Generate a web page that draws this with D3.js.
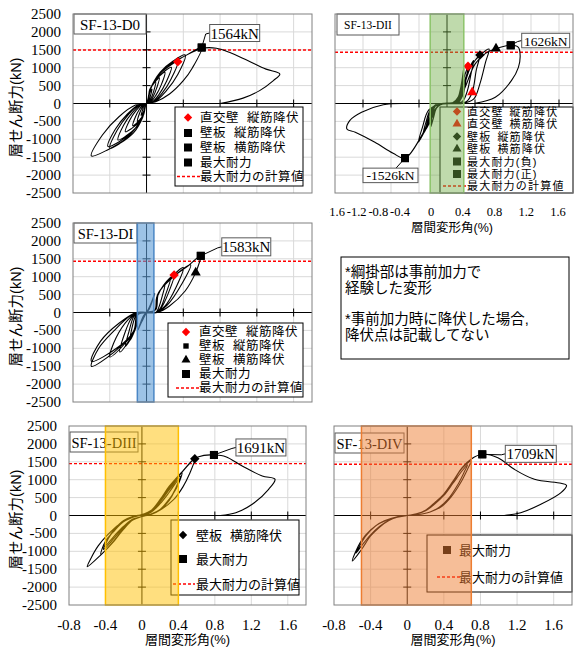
<!DOCTYPE html>
<html><head><meta charset="utf-8">
<script src="https://cdn.jsdelivr.net/npm/d3@7/dist/d3.min.js"></script>
<style>
body{margin:0;background:#fff}
svg text{font-family:"Liberation Serif","Times New Roman",serif;fill:#000}
svg text.jp{font-family:"Liberation Sans","Noto Sans CJK JP","Noto Sans",sans-serif}
</style></head><body>
<svg id="c" width="579" height="648"></svg>
<script>
// ---------------- DATA ----------------
const yTicks = [-2500,-2000,-1500,-1000,-500,0,500,1000,1500,2000,2500];
const xTicksWide = [-1.6,-1.2,-0.8,-0.4,0,0.4,0.8,1.2,1.6];
const xTicksNarrow = [-0.8,-0.4,0,0.4,0.8,1.2,1.6];
const panelNames = ["SF-13-D0","SF-13-DII","SF-13-DI","SF-13-DIII","SF-13-DIV"];
const calcMax = [1495,1430,1430,1450,1430];
const maxLabels = ["1564kN","1626kN","-1526kN","1583kN","1691kN","1709kN"];
const bandD2 = [-0.24,0.24];
const bandD1 = [-0.10,0.08];
const bandD3 = [-0.40,0.40];
const bandD4 = [-0.50,0.70];

// SF-13-D0 (drift %, shear kN)
const d0Curve = [[0,0],
[0.015,120],[0.03,260],[0.045,350],[0.06,400],[0.045,240],[0.03,100],[0.01,10],[0,0],
[-0.015,-100],[-0.03,-215],[-0.045,-290],[-0.06,-330],[-0.045,-200],[-0.03,-80],[-0.01,-8],[0,0],
[0.02,180],[0.035,390],[0.07,530],[0.10,600],[0.08,360],[0.05,150],[0.02,15],[0,0],
[-0.02,-150],[-0.035,-325],[-0.07,-440],[-0.10,-500],[-0.08,-300],[-0.05,-125],[-0.02,-12],[0,0],
[0.025,220],[0.05,470],[0.10,630],[0.14,720],[0.11,430],[0.07,180],[0.03,20],[0,0],
[-0.025,-190],[-0.055,-400],[-0.105,-545],[-0.15,-620],[-0.12,-370],[-0.075,-155],[-0.03,-15],[0,0],
[0.03,260],[0.07,565],[0.14,765],[0.20,870],[0.16,520],[0.10,220],[0.04,25],[0,0],
[-0.03,-240],[-0.08,-515],[-0.16,-695],[-0.23,-790],[-0.185,-475],[-0.115,-200],[-0.045,-20],[0,0],
[0.03,300],[0.095,655],[0.19,890],[0.27,1010],[0.215,605],[0.135,250],[0.055,30],[0,0],
[-0.03,-300],[-0.11,-660],[-0.22,-900],[-0.31,-1020],[-0.25,-610],[-0.155,-255],[-0.06,-30],[0,0],
[0.035,350],[0.12,760],[0.24,1030],[0.34,1168],[0.27,700],[0.17,290],[0.07,35],[0,0],
[-0.04,-375],[-0.14,-815],[-0.28,-1100],[-0.40,-1252],[-0.32,-750],[-0.20,-315],[-0.08,-35],[0,0],
[0.04,400],[0.15,880],[0.29,1190],[0.42,1355],[0.34,810],[0.21,340],[0.085,40],[0,0],
[-0.04,-360],[-0.15,-780],[-0.29,-1055],[-0.42,-1200],[-0.34,-720],[-0.21,-300],[-0.085,-35],[0,0],
[0.05,450],[0.21,1010],[0.42,1330],[0.60,1564],[0.50,1000],[0.40,636],[0.25,265],[0.10,50],[0,0],
[-0.05,-400],[-0.21,-950],[-0.42,-1290],[-0.60,-1466],[-0.48,-880],[-0.30,-370],[-0.12,-45],[0,0],
[0.05,450],[0.21,1010],[0.42,1330],[0.60,1540],[0.76,1545],[0.90,1430],[1.10,1200],[1.30,960],[1.45,824],[1.38,640],[1.23,360],[1.05,150],[0.80,0]];
const d0Marks = [["diamond","#ff0000",0.34,1168],["square","#000",0.60,1564]];

// SF-13-DII
const d2Curve = [[0,0],
[0.08,20],[0.15,130],[0.20,480],[0.24,880],[0.22,450],[0.18,120],[0.10,10],[-0.06,-10],[-0.14,-90],[-0.19,-380],[-0.23,-650],[-0.21,-300],[-0.16,-60],[-0.04,0],
[0.08,20],[0.16,180],[0.21,600],[0.24,1000],[0.22,560],[0.17,130],[0.08,0],[-0.07,-10],[-0.15,-130],[-0.20,-430],[-0.24,-600],[-0.22,-260],[-0.17,-50],[-0.05,0],
[0.09,20],[0.17,200],[0.22,520],[0.24,700],[0.22,250],[0.17,40],[0.06,0],[-0.08,-10],[-0.16,-150],[-0.21,-380],[-0.24,-450],[-0.22,-180],[-0.16,-30],[-0.05,0],
[0.10,30],[0.17,200],[0.24,700],[0.30,1040],[0.27,650],[0.23,250],[0.16,40],[0.05,0],[-0.08,-20],[-0.16,-150],[-0.23,-450],[-0.30,-720],[-0.27,-430],[-0.21,-130],[-0.06,0],
[0.12,40],[0.19,250],[0.28,800],[0.38,1200],[0.34,800],[0.29,350],[0.22,60],[0.06,0],[-0.09,-30],[-0.18,-200],[-0.26,-550],[-0.34,-852],[-0.30,-520],[-0.23,-160],[-0.07,0],
[0.13,40],[0.20,300],[0.32,950],[0.47,1354],[0.42,950],[0.36,313],[0.28,60],[0.08,0],[-0.10,-30],[-0.20,-250],[-0.30,-700],[-0.41,-1084],[-0.35,-660],[-0.26,-180],[-0.08,0],
[0.14,50],[0.22,350],[0.36,1100],[0.60,1520],[0.55,1150],[0.47,550],[0.38,120],[0.22,0],[0.05,0],[-0.10,-40],[-0.22,-300],[-0.35,-850],[-0.60,-1526],
[-0.77,-1391],[-1.03,-1084],[-1.31,-805],[-1.43,-712],[-1.39,-480],[-1.22,-246],[-0.91,-34],[-0.55,0],[-0.20,0],
[0.10,30],[0.22,300],[0.40,1100],[0.55,1400],[0.70,1531],[0.91,1626],[1.02,1570],[1.045,1330],[1.02,1011],[0.92,637],[0.69,173],[0.40,5]];
const d2Marks = [["diamond","#ff0000",0.30,1039],["triangle","#ff0000",0.36,313],["diamond","#000",0.47,1354],["triangle","#000",0.70,1531],["square","#000",0.91,1626],["square","#000",-0.60,-1526]];

// SF-13-DI
const d1Curve = [[0,0],
[0.03,150],[0.06,330],[0.09,540],[0.06,300],[0.03,100],[0,0],[-0.03,-150],[-0.06,-300],[-0.09,-480],[-0.06,-250],[-0.03,-80],[0,0],
[0.09,60],[0.11,380],[0.15,620],[0.20,780],[0.17,450],[0.13,120],[0.10,0],[0,-10],
[-0.09,-40],[-0.11,-350],[-0.14,-580],[-0.18,-776],[-0.16,-450],[-0.12,-100],[-0.09,0],[0,10],
[0.09,60],[0.11,420],[0.17,700],[0.26,950],[0.21,520],[0.15,120],[0.10,0],[0,-10],
[-0.09,-40],[-0.11,-380],[-0.16,-680],[-0.23,-950],[-0.19,-520],[-0.14,-120],[-0.09,0],[0,10],
[0.09,60],[0.12,460],[0.19,780],[0.30,1047],[0.24,560],[0.16,130],[0.10,0],[0,-10],
[-0.09,-40],[-0.12,-420],[-0.19,-780],[-0.29,-1103],[-0.24,-600],[-0.16,-140],[-0.09,0],[0,10],
[0.09,70],[0.12,500],[0.22,850],[0.40,1254],[0.32,700],[0.20,180],[0.10,0],[0,-10],
[-0.09,-50],[-0.12,-450],[-0.24,-880],[-0.40,-1242],[-0.33,-700],[-0.20,-200],[-0.10,0],[0,10],
[0.10,80],[0.13,530],[0.26,930],[0.48,1330],[0.38,780],[0.23,220],[0.11,0],[0,-10],
[-0.10,-50],[-0.13,-480],[-0.30,-950],[-0.60,-1363],[-0.50,-800],[-0.30,-300],[-0.11,0],[0,10],
[0.10,80],[0.13,550],[0.30,1011],[0.45,1300],[0.59,1583],[0.555,1250],[0.535,1114],[0.42,600],[0.25,180],[0.12,0],[0,-10],
[-0.10,-60],[-0.14,-520],[-0.35,-1100],[-0.60,-1503],[-0.52,-1000],[-0.35,-500],[-0.18,-100],[-0.08,0]];
const d1Marks = [["diamond","#ff0000",0.30,1047],["triangle","#000",0.535,1114],["square","#000",0.59,1583]];

// SF-13-DIII
const d3Curve = [[0,0],
[0.1,90],[0.2,330],[0.3,650],[0.40,1000],[0.36,700],[0.3,420],[0.2,150],[0.1,30],[0,-30],[-0.1,-100],[-0.2,-300],[-0.3,-560],[-0.40,-850],[-0.36,-600],[-0.3,-380],[-0.2,-140],[-0.1,-30],[0,30],
[0.1,110],[0.2,380],[0.3,720],[0.42,1100],[0.37,760],[0.3,440],[0.2,160],[0.1,40],[0,-30],[-0.1,-110],[-0.2,-330],[-0.3,-620],[-0.42,-950],[-0.37,-650],[-0.3,-400],[-0.2,-160],[-0.1,-40],[0,30],
[0.1,120],[0.2,400],[0.3,760],[0.44,1200],[0.39,820],[0.3,460],[0.2,170],[0.1,40],[0,-30],[-0.1,-120],[-0.2,-360],[-0.3,-680],[-0.45,-1084],[-0.40,-720],[-0.3,-420],[-0.2,-170],[-0.1,-40],[0,30],
[0.1,130],[0.2,430],[0.3,800],[0.42,1150],[0.58,1587],[0.52,1150],[0.45,800],[0.35,450],[0.2,150],[0.1,40],[0,-30],[-0.1,-130],[-0.2,-380],[-0.3,-700],[-0.45,-1100],[-0.60,-1430],[-0.56,-1200],[-0.48,-850],[-0.38,-550],[-0.25,-250],[-0.1,-50],[0,20],
[0.1,140],[0.2,450],[0.3,820],[0.45,1250],[0.58,1590],[0.68,1680],[0.79,1691],[0.92,1643],[1.10,1382],[1.32,1103],[1.46,1011],[1.39,732],[1.21,313],[1.03,78],[0.86,0]];
const d3Marks = [["diamond","#000",0.58,1587],["square","#000",0.79,1691]];

// SF-13-DIV
const d4Curve = [[0,0],
[0.1,40],[0.2,130],[0.3,320],[0.4,560],[0.5,900],[0.60,1250],[0.66,1420],[0.62,1200],[0.55,850],[0.45,470],[0.35,230],[0.25,100],[0.1,20],[0,0],
[-0.1,-40],[-0.2,-130],[-0.3,-300],[-0.4,-540],[-0.5,-850],[-0.56,-1050],[-0.52,-850],[-0.45,-560],[-0.35,-300],[-0.25,-150],[-0.1,-30],[0,0],
[0.1,40],[0.2,140],[0.3,340],[0.4,580],[0.5,940],[0.60,1320],[0.70,1530],[0.66,1300],[0.58,900],[0.48,520],[0.38,260],[0.25,100],[0.1,20],[0,0],
[-0.1,-40],[-0.2,-140],[-0.3,-320],[-0.4,-573],[-0.5,-950],[-0.60,-1271],[-0.57,-1050],[-0.5,-700],[-0.4,-400],[-0.3,-220],[-0.15,-70],[0,0],
[0.1,45],[0.2,150],[0.3,360],[0.4,600],[0.5,960],[0.6,1340],[0.70,1580],[0.82,1709],[0.99,1615],[1.17,1290],[1.39,1011],[1.68,899],[1.74,843],[1.68,637],[1.46,313],[1.24,78],[1.06,0]];
const d4Marks = [["square","#000",0.82,1709]];

// legends: [marker, colour, word1, word2]
const d0Legend = [["diamond","#ff0000","直交壁","縦筋降伏"],["square","#000","壁板","縦筋降伏"],["square","#000","壁板","横筋降伏"],["square","#000","最大耐力",""],["dash","#ff0000","最大耐力の計算値",""]];
const d2Legend = [["diamond","#ff0000","直交壁","縦筋降伏"],["triangle","#ff0000","直交壁","横筋降伏"],["diamond","#000","壁板","縦筋降伏"],["triangle","#000","壁板","横筋降伏"],["square","#000","最大耐力(負)",""],["square","#000","最大耐力(正)",""],["dash","#ff0000","最大耐力の計算値",""]];
const d1Legend = [["diamond","#ff0000","直交壁","縦筋降伏"],["smallsquare","#000","壁板","縦筋降伏"],["triangle","#000","壁板","横筋降伏"],["square","#000","最大耐力",""],["dash","#ff0000","最大耐力の計算値",""]];
const d3Legend = [["diamond","#000","壁板","横筋降伏"],["square","#000","最大耐力",""],["dash","#ff0000","最大耐力の計算値",""]];
const d4Legend = [["square","#000","最大耐力",""],["dash","#ff0000","最大耐力の計算値",""]];

const noteLines = ["*綱掛部は事前加力で","経験した変形","*事前加力時に降伏した場合,","降伏点は記載してない"];
const yTitle = "層せん断力(kN)";
const xTitle = "層間変形角(%)";

// ---------------- DRAWING ----------------
const svg = d3.select("#c");
const JP = "jp";

function symPath(type, s){
  if(type==="square") return d3.symbol(d3.symbolSquare, s*s)();
  if(type==="smallsquare") return d3.symbol(d3.symbolSquare, s*s*0.45)();
  if(type==="diamond") return d3.symbol(d3.symbolSquare, s*s*0.55)();
  if(type==="triangle") return d3.symbol(d3.symbolTriangle, s*s*0.55)();
}
function drawSym(g, type, color, px, py, s){
  return g.append("path").attr("d", symPath(type, s)).attr("fill", color)
    .attr("transform", `translate(${px},${py})` + (type==="diamond" ? " rotate(45)" : ""));
}

function panel(c){
  const x = d3.scaleLinear().domain(c.xDomain).range([c.l, c.l + c.w]);
  const y = d3.scaleLinear().domain([-2500, 2500]).range([c.t + c.h, c.t]);
  const g = svg.append("g");
  const clipId = "clip" + c.id;
  svg.append("clipPath").attr("id", clipId).append("rect")
    .attr("x", c.l).attr("y", c.t).attr("width", c.w).attr("height", c.h);

  g.append("rect").attr("x", c.l).attr("y", c.t).attr("width", c.w).attr("height", c.h).attr("fill", "#fff");
  const gridX = (c.xDomain[0] < -1 ? xTicksWide : xTicksNarrow).filter(v => v !== 0 && x(v) > c.l + 1);
  g.selectAll(null).data(gridX).join("line")
    .attr("x1", d => x(d)).attr("x2", d => x(d)).attr("y1", c.t).attr("y2", c.t + c.h)
    .attr("stroke", "#d9d9d9").attr("stroke-width", 1);
  g.selectAll(null).data(yTicks.filter(v => v !== 0 && Math.abs(v) < 2500)).join("line")
    .attr("x1", c.l).attr("x2", c.l + c.w).attr("y1", d => y(d)).attr("y2", d => y(d))
    .attr("stroke", "#d9d9d9").attr("stroke-width", 1);

  g.append("line").attr("x1", c.l).attr("x2", c.l + c.w).attr("y1", y(c.calc)).attr("y2", y(c.calc))
    .attr("stroke", "#ff0000").attr("stroke-width", 1.4).attr("stroke-dasharray", "3,2");

  g.append("line").attr("x1", c.l).attr("x2", c.l + c.w).attr("y1", y(0)).attr("y2", y(0)).attr("stroke", "#000");
  g.append("line").attr("x1", x(0)).attr("x2", x(0)).attr("y1", c.t).attr("y2", c.t + c.h).attr("stroke", "#000");
  g.selectAll(null).data(gridX).join("line")
    .attr("x1", d => x(d)).attr("x2", d => x(d)).attr("y1", y(0) - 4).attr("y2", y(0) + 4).attr("stroke", "#000");
  g.selectAll(null).data(yTicks.filter(v => v !== 0 && Math.abs(v) < 2500)).join("line")
    .attr("x1", x(0) - 4).attr("x2", x(0) + 4).attr("y1", d => y(d)).attr("y2", d => y(d)).attr("stroke", "#000");

  const line = d3.line().x(d => x(d[0])).y(d => y(d[1])).curve(d3.curveCatmullRom.alpha(0.5));
  g.append("path").datum(c.curve).attr("d", line).attr("fill", "none")
    .attr("stroke", "#000").attr("stroke-width", 1.1).attr("stroke-linejoin", "round")
    .attr("clip-path", `url(#${clipId})`);

  c.marks.forEach(m => drawSym(g, m[0], m[1], x(m[2]), y(m[3]), m[0]==="square" ? 8 : 9));

  const L = c.leg;
  g.append("rect").attr("x", L.x).attr("y", L.y).attr("width", L.w).attr("height", L.h)
    .attr("fill", "#fff").attr("stroke", "#000").attr("stroke-width", 1);
  c.legend.forEach((e, i) => {
    const ry = L.rows[i];
    if (e[0] === "dash") {
      g.append("line").attr("x1", L.dash[0]).attr("x2", L.dash[1]).attr("y1", ry).attr("y2", ry)
        .attr("stroke", e[1]).attr("stroke-width", 1.4).attr("stroke-dasharray", "3,2");
    } else {
      drawSym(g, e[0], e[1], L.mx, ry, 8);
    }
    const t = g.append("text").attr("class", JP).attr("x", L.tx).attr("y", ry)
      .attr("dominant-baseline", "central").attr("font-size", L.fs)
      .attr("letter-spacing", L.ls || 0).text(e[2]);
    if (e[3]) {
      const w1 = t.node().getComputedTextLength();
      g.append("text").attr("class", JP).attr("x", L.tx + w1 + L.gap).attr("y", ry)
        .attr("dominant-baseline", "central").attr("font-size", L.fs)
        .attr("letter-spacing", L.ls || 0).text(e[3]);
    }
  });

  const T = c.tb;
  g.append("rect").attr("x", T.x).attr("y", T.y).attr("width", T.w).attr("height", T.h)
    .attr("fill", "#fff").attr("stroke", "#595959").attr("stroke-width", 1);
  g.append("text").attr("x", T.x + T.w / 2).attr("y", T.y + T.h / 2 + 0.5).attr("text-anchor", "middle")
    .attr("dominant-baseline", "central").attr("font-size", T.fs).text(c.name);

  const B = c.band;
  g.append("rect").attr("x", x(B[0])).attr("y", c.t).attr("width", x(B[1]) - x(B[0])).attr("height", c.h)
    .attr("fill", c.bandFill).attr("fill-opacity", c.bandOp).attr("stroke", c.bandStroke).attr("stroke-width", 1.5);

  g.append("rect").attr("x", c.l).attr("y", c.t).attr("width", c.w).attr("height", c.h)
    .attr("fill", "none").attr("stroke", "#808080").attr("stroke-width", 1);

  c.callouts.forEach(o => {
    const px = x(o.at[0]), py = y(o.at[1]);
    const bx = px + o.dx, by = py + o.dy;
    const lp = o.lead === "top" ? [[px, py], [bx + o.w * 0.6, by]]
      : [[px, py], [bx - 4, by + o.h / 2 + 1], [bx, by + o.h / 2]];
    g.append("path").attr("d", d3.line()(lp)).attr("fill", "none").attr("stroke", "#000").attr("stroke-width", 1);
    g.append("rect").attr("x", bx).attr("y", by).attr("width", o.w).attr("height", o.h)
      .attr("fill", "#fff").attr("stroke", "#595959").attr("stroke-width", 1);
    g.append("text").attr("x", bx + o.w / 2).attr("y", by + o.h / 2 + 0.5).attr("text-anchor", "middle")
      .attr("dominant-baseline", "central").attr("font-size", o.fs).text(o.label);
  });
  c.marks.filter(m => m[0] === "square").forEach(m => drawSym(g, m[0], m[1], x(m[2]), y(m[3]), 8));

  if (c.yLabels) {
    g.selectAll(null).data(yTicks).join("text")
      .attr("x", c.l - 12).attr("y", d => y(d)).attr("text-anchor", "end").attr("dominant-baseline", "central")
      .attr("font-size", 15).text(d => d);
    g.append("text").attr("class", JP).attr("font-size", 14.5).attr("text-anchor", "middle")
      .attr("dominant-baseline", "central")
      .attr("transform", `translate(16,${c.t + c.h / 2 + 4}) rotate(-90)`).text(yTitle);
  }
  if (c.xLabels) {
    g.selectAll(null).data(xTicksNarrow).join("text")
      .attr("x", d => x(d)).attr("y", c.t + c.h + 20).attr("text-anchor", "middle").attr("dominant-baseline", "central")
      .attr("font-size", 15).text(d => d);
    g.append("text").attr("class", JP).attr("x", c.l + c.w / 2).attr("y", c.t + c.h + 34)
      .attr("text-anchor", "middle").attr("dominant-baseline", "central").attr("font-size", 13).text(xTitle);
  }
  return {x, y};
}

panel({id:4, name:panelNames[4], l:334, t:426, w:238, h:179, xDomain:[-0.8,1.8], curve:d4Curve, marks:d4Marks,
  calc:calcMax[4], band:bandD4, bandFill:"#ED7D31", bandOp:0.5, bandStroke:"#ED7D31",
  legend:d4Legend, leg:{x:427,y:535,w:145,h:57,mx:447,tx:459,dash:[437,460],rows:[550,577],fs:13,gap:8},
  tb:{x:335,y:433,w:69,h:20,fs:14.5},
  callouts:[{at:[0.82,1709],dx:23,dy:-9,w:51,h:17,fs:15,label:maxLabels[5]}],
  xLabels:true});

panel({id:3, name:panelNames[3], l:69, t:426, w:237, h:179, xDomain:[-0.8,1.8], curve:d3Curve, marks:d3Marks,
  calc:calcMax[3], band:bandD3, bandFill:"#FFC000", bandOp:0.5, bandStroke:"#FFC000",
  legend:d3Legend, leg:{x:171,y:520,w:128,h:75,mx:183,tx:196,dash:[173,195],rows:[535,559,584],fs:13,gap:8},
  tb:{x:70,y:432,w:68,h:20,fs:14.5},
  callouts:[{at:[0.79,1691],dx:22,dy:-16,w:50,h:17,fs:15,label:maxLabels[4]}],
  yLabels:true, xLabels:true});

panel({id:0, name:panelNames[0], l:73, t:14, w:239, h:179, xDomain:[-0.8,1.8], curve:d0Curve, marks:d0Marks,
  calc:calcMax[0], band:[0,0], bandFill:"none", bandOp:0, bandStroke:"none",
  legend:d0Legend, leg:{x:175,y:107,w:128,h:79,mx:188,tx:200,dash:[177,200],rows:[117.5,133,147.5,162.5,176.5],fs:12.5,ls:0.5,gap:8},
  tb:{x:74,y:14,w:72,h:20,fs:15},
  callouts:[{at:[0.60,1564],dx:8,dy:-23,w:50,h:17,fs:15,label:maxLabels[0]}],
  yLabels:true});

panel({id:2, name:panelNames[2], l:73, t:223, w:239, h:179, xDomain:[-0.8,1.8], curve:d1Curve, marks:d1Marks,
  calc:calcMax[2], band:bandD1, bandFill:"#5B9BD5", bandOp:0.6, bandStroke:"#4a86c5",
  legend:d1Legend, leg:{x:168,y:323,w:135,h:74,mx:186,tx:199,dash:[176,199],rows:[332,346,360,374,388],fs:12.5,ls:0.5,gap:8},
  tb:{x:74,y:223,w:63,h:20,fs:14.5},
  callouts:[{at:[0.59,1583],dx:21,dy:-18,w:49,h:18,fs:15,label:maxLabels[3]}],
  yLabels:true});

panel({id:1, name:panelNames[1], l:335, t:14, w:238, h:179, xDomain:[-1.6,1.8], curve:d2Curve, marks:d2Marks,
  calc:calcMax[1], band:bandD2, bandFill:"#70AD47", bandOp:0.45, bandStroke:"#8cc46a",
  legend:d2Legend, leg:{x:440,y:107,w:133,h:86,mx:457,tx:467,dash:[443,466],rows:[111.5,124,136.5,149,161.5,174,186],fs:11,ls:1.2,gap:6},
  tb:{x:337,y:14,w:62,h:21,fs:11.5},
  callouts:[{at:[0.91,1626],dx:11,dy:-12,w:48,h:14.5,fs:13.5,label:maxLabels[1]},
            {at:[-0.60,-1526],dx:-42,dy:10,w:55,h:14.5,fs:13.5,label:maxLabels[2],lead:"top"}]});

// SF-13-DII tick labels (placed as in the original, offset from the grid)
const dIILab = d3.scaleLinear().domain([-1.6,-0.4,0,1.6]).range([335,400,431,558]);
svg.append("clipPath").attr("id","clipLab").append("rect").attr("x",329).attr("y",195).attr("width",250).attr("height",30);
svg.append("g").attr("clip-path","url(#clipLab)").selectAll(null).data(xTicksWide).join("text")
  .attr("x", d => dIILab(d)).attr("y", 212).attr("text-anchor","middle").attr("dominant-baseline","central")
  .attr("font-size", 12.5).text(d => d);
svg.append("text").attr("class","jp").attr("x",452).attr("y",228).attr("text-anchor","middle")
  .attr("dominant-baseline","central").attr("font-size",12.5).text(xTitle);

// note box
svg.append("rect").attr("x",341).attr("y",257).attr("width",228).attr("height",102)
  .attr("fill","#fff").attr("stroke","#000").attr("stroke-width",1);
const noteY = [271.5, 287.5, 319, 335];
svg.selectAll(null).data(noteLines).join("text").attr("class","jp")
  .attr("x",345).attr("y",(d,i)=>noteY[i]).attr("dominant-baseline","central").attr("font-size",14.5).text(d=>d);
</script>
</body></html>
